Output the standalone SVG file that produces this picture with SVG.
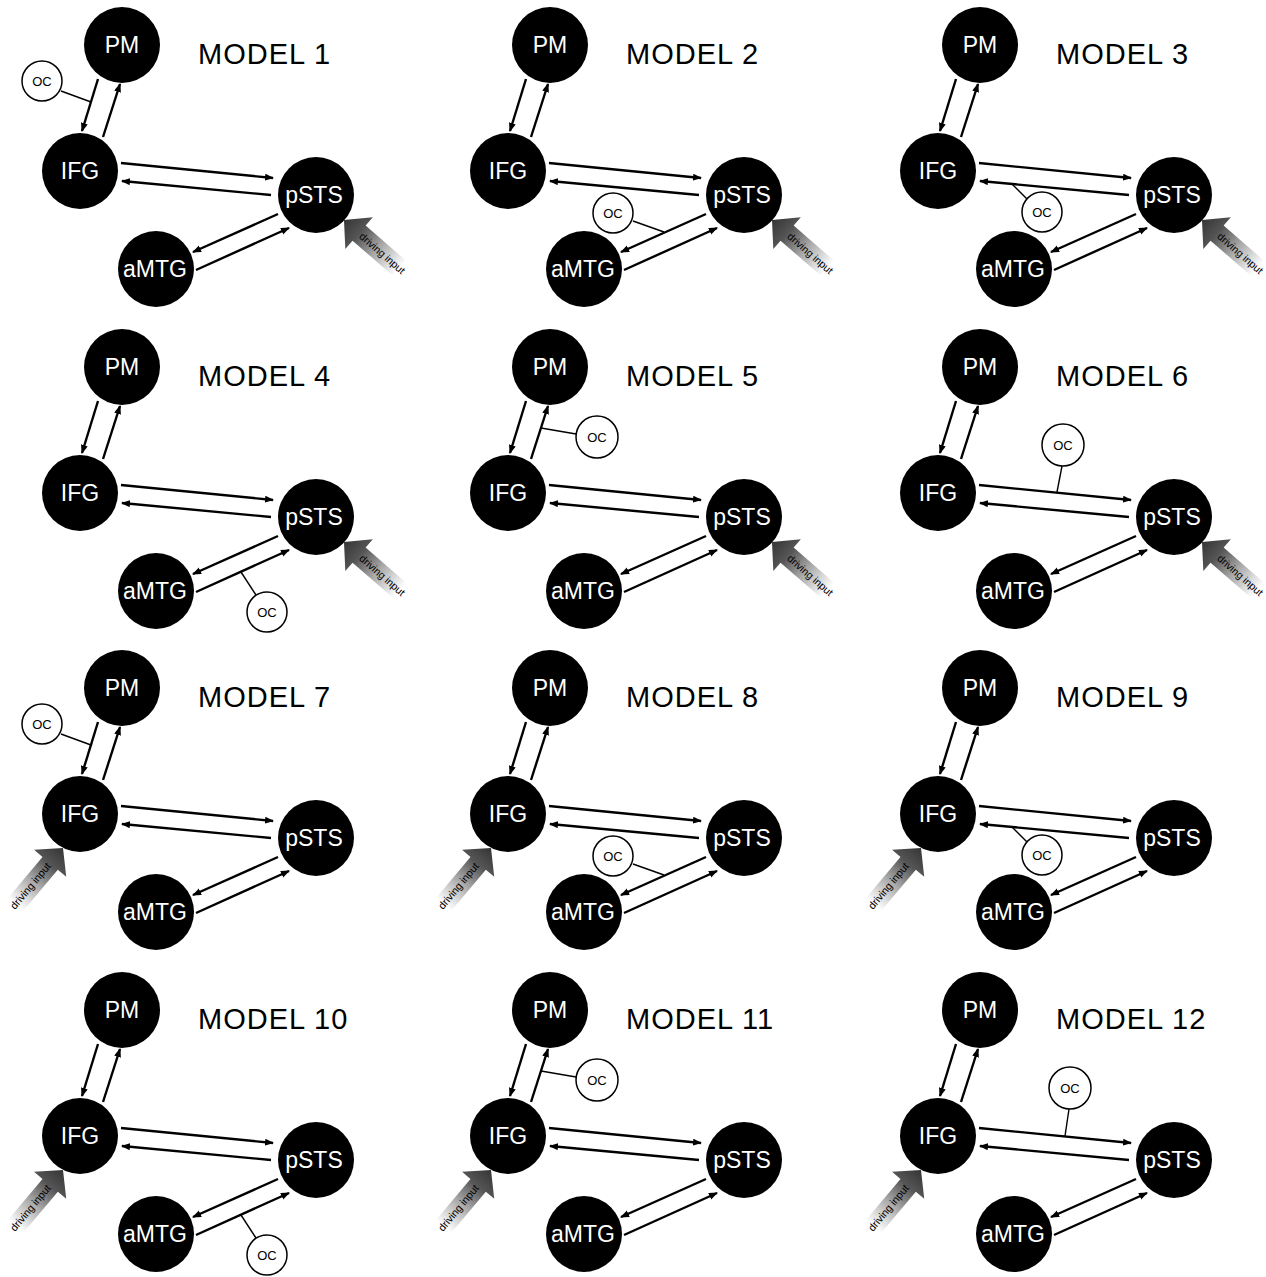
<svg xmlns="http://www.w3.org/2000/svg" width="1266" height="1277" viewBox="0 0 1266 1277">
<defs>
<style>
.title{font-family:"Liberation Sans",Arial,sans-serif;font-size:29px;letter-spacing:1px;fill:#000}
.node circle{fill:#000}
.node text{font-family:"Liberation Sans",Arial,sans-serif;font-size:23px;fill:#fff;text-anchor:middle}
.conn line{stroke:#000;stroke-width:2.4;marker-end:url(#ah)}
.oc circle{fill:#fff;stroke:#000;stroke-width:1.5}
.oc line{stroke:#000;stroke-width:1.4}
.oc text{font-family:"Liberation Sans",Arial,sans-serif;font-size:13px;text-anchor:middle;fill:#000}
.di polygon{fill:url(#gIn)}
.di text{font-family:"Liberation Sans",Arial,sans-serif;font-size:10.5px;fill:#000}
</style>
<marker id="ah" markerUnits="userSpaceOnUse" markerWidth="10" markerHeight="8" refX="8" refY="3.5" orient="auto">
<path d="M0,0 L9,3.5 L0,7 z" fill="#000"/>
</marker>
<linearGradient id="gIn" x1="0" y1="0" x2="1" y2="0">
<stop offset="0" stop-color="#ffffff"/>
<stop offset="0.4" stop-color="#a8a8a8"/>
<stop offset="0.72" stop-color="#555555"/>
<stop offset="1" stop-color="#353535"/>
</linearGradient>
</defs>
<rect width="1266" height="1277" fill="#fff"/>

<!-- MODEL 1 -->
<g id="model1" transform="translate(0,0)">
<text class="title" x="198" y="64">MODEL 1</text>
<g id="m1-connectors" class="conn">
<line x1="98" y1="79" x2="82" y2="131"/>
<line x1="103" y1="137" x2="120" y2="84"/>
<line x1="121" y1="163" x2="273" y2="178"/>
<line x1="271" y1="195" x2="122" y2="181"/>
<line x1="278" y1="214" x2="193" y2="252"/>
<line x1="196" y1="270" x2="289" y2="228"/>
</g>
<g id="m1-PM" class="node"><circle cx="122" cy="45" r="38"/><text x="122" y="53">PM</text></g>
<g id="m1-IFG" class="node"><circle cx="80" cy="171" r="38"/><text x="80" y="179">IFG</text></g>
<g id="m1-pSTS" class="node"><circle cx="316" cy="195" r="38"/><text x="314" y="203">pSTS</text></g>
<g id="m1-aMTG" class="node"><circle cx="156" cy="269" r="38"/><text x="155" y="277">aMTG</text></g>
<g id="m1-OC" class="oc"><line x1="61" y1="91" x2="91" y2="102"/><circle cx="42" cy="81" r="20"/><text x="42" y="86">OC</text></g>
<g id="m1-input" class="di"><polygon transform="translate(344,220) rotate(-139)" points="0,0 -20,-21 -20,-10 -74,-10 -74,10 -20,10 -20,21"/><text transform="translate(358.5,237.5) rotate(41)">driving input</text></g>
</g>

<!-- MODEL 2 -->
<g id="model2" transform="translate(428,0)">
<text class="title" x="198" y="64">MODEL 2</text>
<g id="m2-connectors" class="conn">
<line x1="98" y1="79" x2="82" y2="131"/>
<line x1="103" y1="137" x2="120" y2="84"/>
<line x1="121" y1="163" x2="273" y2="178"/>
<line x1="271" y1="195" x2="122" y2="181"/>
<line x1="278" y1="214" x2="193" y2="252"/>
<line x1="196" y1="270" x2="289" y2="228"/>
</g>
<g id="m2-PM" class="node"><circle cx="122" cy="45" r="38"/><text x="122" y="53">PM</text></g>
<g id="m2-IFG" class="node"><circle cx="80" cy="171" r="38"/><text x="80" y="179">IFG</text></g>
<g id="m2-pSTS" class="node"><circle cx="316" cy="195" r="38"/><text x="314" y="203">pSTS</text></g>
<g id="m2-aMTG" class="node"><circle cx="156" cy="269" r="38"/><text x="155" y="277">aMTG</text></g>
<g id="m2-OC" class="oc"><line x1="205" y1="221" x2="236" y2="232"/><circle cx="185" cy="213" r="20"/><text x="185" y="218">OC</text></g>
<g id="m2-input" class="di"><polygon transform="translate(344,220) rotate(-139)" points="0,0 -20,-21 -20,-10 -74,-10 -74,10 -20,10 -20,21"/><text transform="translate(358.5,237.5) rotate(41)">driving input</text></g>
</g>

<!-- MODEL 3 -->
<g id="model3" transform="translate(858,0)">
<text class="title" x="198" y="64">MODEL 3</text>
<g id="m3-connectors" class="conn">
<line x1="98" y1="79" x2="82" y2="131"/>
<line x1="103" y1="137" x2="120" y2="84"/>
<line x1="121" y1="163" x2="273" y2="178"/>
<line x1="271" y1="195" x2="122" y2="181"/>
<line x1="278" y1="214" x2="193" y2="252"/>
<line x1="196" y1="270" x2="289" y2="228"/>
</g>
<g id="m3-PM" class="node"><circle cx="122" cy="45" r="38"/><text x="122" y="53">PM</text></g>
<g id="m3-IFG" class="node"><circle cx="80" cy="171" r="38"/><text x="80" y="179">IFG</text></g>
<g id="m3-pSTS" class="node"><circle cx="316" cy="195" r="38"/><text x="314" y="203">pSTS</text></g>
<g id="m3-aMTG" class="node"><circle cx="156" cy="269" r="38"/><text x="155" y="277">aMTG</text></g>
<g id="m3-OC" class="oc"><line x1="169" y1="199" x2="154" y2="184"/><circle cx="184" cy="212" r="20"/><text x="184" y="217">OC</text></g>
<g id="m3-input" class="di"><polygon transform="translate(344,220) rotate(-139)" points="0,0 -20,-21 -20,-10 -74,-10 -74,10 -20,10 -20,21"/><text transform="translate(358.5,237.5) rotate(41)">driving input</text></g>
</g>

<!-- MODEL 4 -->
<g id="model4" transform="translate(0,322)">
<text class="title" x="198" y="64">MODEL 4</text>
<g id="m4-connectors" class="conn">
<line x1="98" y1="79" x2="82" y2="131"/>
<line x1="103" y1="137" x2="120" y2="84"/>
<line x1="121" y1="163" x2="273" y2="178"/>
<line x1="271" y1="195" x2="122" y2="181"/>
<line x1="278" y1="214" x2="193" y2="252"/>
<line x1="196" y1="270" x2="289" y2="228"/>
</g>
<g id="m4-PM" class="node"><circle cx="122" cy="45" r="38"/><text x="122" y="53">PM</text></g>
<g id="m4-IFG" class="node"><circle cx="80" cy="171" r="38"/><text x="80" y="179">IFG</text></g>
<g id="m4-pSTS" class="node"><circle cx="316" cy="195" r="38"/><text x="314" y="203">pSTS</text></g>
<g id="m4-aMTG" class="node"><circle cx="156" cy="269" r="38"/><text x="155" y="277">aMTG</text></g>
<g id="m4-OC" class="oc"><line x1="256" y1="273" x2="241" y2="250"/><circle cx="267" cy="290" r="20"/><text x="267" y="295">OC</text></g>
<g id="m4-input" class="di"><polygon transform="translate(344,220) rotate(-139)" points="0,0 -20,-21 -20,-10 -74,-10 -74,10 -20,10 -20,21"/><text transform="translate(358.5,237.5) rotate(41)">driving input</text></g>
</g>

<!-- MODEL 5 -->
<g id="model5" transform="translate(428,322)">
<text class="title" x="198" y="64">MODEL 5</text>
<g id="m5-connectors" class="conn">
<line x1="98" y1="79" x2="82" y2="131"/>
<line x1="103" y1="137" x2="120" y2="84"/>
<line x1="121" y1="163" x2="273" y2="178"/>
<line x1="271" y1="195" x2="122" y2="181"/>
<line x1="278" y1="214" x2="193" y2="252"/>
<line x1="196" y1="270" x2="289" y2="228"/>
</g>
<g id="m5-PM" class="node"><circle cx="122" cy="45" r="38"/><text x="122" y="53">PM</text></g>
<g id="m5-IFG" class="node"><circle cx="80" cy="171" r="38"/><text x="80" y="179">IFG</text></g>
<g id="m5-pSTS" class="node"><circle cx="316" cy="195" r="38"/><text x="314" y="203">pSTS</text></g>
<g id="m5-aMTG" class="node"><circle cx="156" cy="269" r="38"/><text x="155" y="277">aMTG</text></g>
<g id="m5-OC" class="oc"><line x1="148" y1="112" x2="113" y2="106"/><circle cx="169" cy="115" r="21"/><text x="169" y="120">OC</text></g>
<g id="m5-input" class="di"><polygon transform="translate(344,220) rotate(-139)" points="0,0 -20,-21 -20,-10 -74,-10 -74,10 -20,10 -20,21"/><text transform="translate(358.5,237.5) rotate(41)">driving input</text></g>
</g>

<!-- MODEL 6 -->
<g id="model6" transform="translate(858,322)">
<text class="title" x="198" y="64">MODEL 6</text>
<g id="m6-connectors" class="conn">
<line x1="98" y1="79" x2="82" y2="131"/>
<line x1="103" y1="137" x2="120" y2="84"/>
<line x1="121" y1="163" x2="273" y2="178"/>
<line x1="271" y1="195" x2="122" y2="181"/>
<line x1="278" y1="214" x2="193" y2="252"/>
<line x1="196" y1="270" x2="289" y2="228"/>
</g>
<g id="m6-PM" class="node"><circle cx="122" cy="45" r="38"/><text x="122" y="53">PM</text></g>
<g id="m6-IFG" class="node"><circle cx="80" cy="171" r="38"/><text x="80" y="179">IFG</text></g>
<g id="m6-pSTS" class="node"><circle cx="316" cy="195" r="38"/><text x="314" y="203">pSTS</text></g>
<g id="m6-aMTG" class="node"><circle cx="156" cy="269" r="38"/><text x="155" y="277">aMTG</text></g>
<g id="m6-OC" class="oc"><line x1="204" y1="144" x2="199" y2="170"/><circle cx="205" cy="123" r="21"/><text x="205" y="128">OC</text></g>
<g id="m6-input" class="di"><polygon transform="translate(344,220) rotate(-139)" points="0,0 -20,-21 -20,-10 -74,-10 -74,10 -20,10 -20,21"/><text transform="translate(358.5,237.5) rotate(41)">driving input</text></g>
</g>

<!-- MODEL 7 -->
<g id="model7" transform="translate(0,643)">
<text class="title" x="198" y="64">MODEL 7</text>
<g id="m7-connectors" class="conn">
<line x1="98" y1="79" x2="82" y2="131"/>
<line x1="103" y1="137" x2="120" y2="84"/>
<line x1="121" y1="163" x2="273" y2="178"/>
<line x1="271" y1="195" x2="122" y2="181"/>
<line x1="278" y1="214" x2="193" y2="252"/>
<line x1="196" y1="270" x2="289" y2="228"/>
</g>
<g id="m7-PM" class="node"><circle cx="122" cy="45" r="38"/><text x="122" y="53">PM</text></g>
<g id="m7-IFG" class="node"><circle cx="80" cy="171" r="38"/><text x="80" y="179">IFG</text></g>
<g id="m7-pSTS" class="node"><circle cx="316" cy="195" r="38"/><text x="314" y="203">pSTS</text></g>
<g id="m7-aMTG" class="node"><circle cx="156" cy="269" r="38"/><text x="155" y="277">aMTG</text></g>
<g id="m7-OC" class="oc"><line x1="61" y1="91" x2="91" y2="102"/><circle cx="42" cy="81" r="20"/><text x="42" y="86">OC</text></g>
<g id="m7-input" class="di"><polygon transform="translate(63,205) rotate(-50)" points="0,0 -20,-21 -20,-10 -74,-10 -74,10 -20,10 -20,21"/><text text-anchor="end" transform="translate(51.5,223.5) rotate(-50)">driving input</text></g>
</g>

<!-- MODEL 8 -->
<g id="model8" transform="translate(428,643)">
<text class="title" x="198" y="64">MODEL 8</text>
<g id="m8-connectors" class="conn">
<line x1="98" y1="79" x2="82" y2="131"/>
<line x1="103" y1="137" x2="120" y2="84"/>
<line x1="121" y1="163" x2="273" y2="178"/>
<line x1="271" y1="195" x2="122" y2="181"/>
<line x1="278" y1="214" x2="193" y2="252"/>
<line x1="196" y1="270" x2="289" y2="228"/>
</g>
<g id="m8-PM" class="node"><circle cx="122" cy="45" r="38"/><text x="122" y="53">PM</text></g>
<g id="m8-IFG" class="node"><circle cx="80" cy="171" r="38"/><text x="80" y="179">IFG</text></g>
<g id="m8-pSTS" class="node"><circle cx="316" cy="195" r="38"/><text x="314" y="203">pSTS</text></g>
<g id="m8-aMTG" class="node"><circle cx="156" cy="269" r="38"/><text x="155" y="277">aMTG</text></g>
<g id="m8-OC" class="oc"><line x1="205" y1="221" x2="236" y2="232"/><circle cx="185" cy="213" r="20"/><text x="185" y="218">OC</text></g>
<g id="m8-input" class="di"><polygon transform="translate(63,205) rotate(-50)" points="0,0 -20,-21 -20,-10 -74,-10 -74,10 -20,10 -20,21"/><text text-anchor="end" transform="translate(51.5,223.5) rotate(-50)">driving input</text></g>
</g>

<!-- MODEL 9 -->
<g id="model9" transform="translate(858,643)">
<text class="title" x="198" y="64">MODEL 9</text>
<g id="m9-connectors" class="conn">
<line x1="98" y1="79" x2="82" y2="131"/>
<line x1="103" y1="137" x2="120" y2="84"/>
<line x1="121" y1="163" x2="273" y2="178"/>
<line x1="271" y1="195" x2="122" y2="181"/>
<line x1="278" y1="214" x2="193" y2="252"/>
<line x1="196" y1="270" x2="289" y2="228"/>
</g>
<g id="m9-PM" class="node"><circle cx="122" cy="45" r="38"/><text x="122" y="53">PM</text></g>
<g id="m9-IFG" class="node"><circle cx="80" cy="171" r="38"/><text x="80" y="179">IFG</text></g>
<g id="m9-pSTS" class="node"><circle cx="316" cy="195" r="38"/><text x="314" y="203">pSTS</text></g>
<g id="m9-aMTG" class="node"><circle cx="156" cy="269" r="38"/><text x="155" y="277">aMTG</text></g>
<g id="m9-OC" class="oc"><line x1="169" y1="199" x2="154" y2="184"/><circle cx="184" cy="212" r="20"/><text x="184" y="217">OC</text></g>
<g id="m9-input" class="di"><polygon transform="translate(63,205) rotate(-50)" points="0,0 -20,-21 -20,-10 -74,-10 -74,10 -20,10 -20,21"/><text text-anchor="end" transform="translate(51.5,223.5) rotate(-50)">driving input</text></g>
</g>

<!-- MODEL 10 -->
<g id="model10" transform="translate(0,965)">
<text class="title" x="198" y="64">MODEL 10</text>
<g id="m10-connectors" class="conn">
<line x1="98" y1="79" x2="82" y2="131"/>
<line x1="103" y1="137" x2="120" y2="84"/>
<line x1="121" y1="163" x2="273" y2="178"/>
<line x1="271" y1="195" x2="122" y2="181"/>
<line x1="278" y1="214" x2="193" y2="252"/>
<line x1="196" y1="270" x2="289" y2="228"/>
</g>
<g id="m10-PM" class="node"><circle cx="122" cy="45" r="38"/><text x="122" y="53">PM</text></g>
<g id="m10-IFG" class="node"><circle cx="80" cy="171" r="38"/><text x="80" y="179">IFG</text></g>
<g id="m10-pSTS" class="node"><circle cx="316" cy="195" r="38"/><text x="314" y="203">pSTS</text></g>
<g id="m10-aMTG" class="node"><circle cx="156" cy="269" r="38"/><text x="155" y="277">aMTG</text></g>
<g id="m10-OC" class="oc"><line x1="256" y1="273" x2="241" y2="250"/><circle cx="267" cy="290" r="20"/><text x="267" y="295">OC</text></g>
<g id="m10-input" class="di"><polygon transform="translate(63,205) rotate(-50)" points="0,0 -20,-21 -20,-10 -74,-10 -74,10 -20,10 -20,21"/><text text-anchor="end" transform="translate(51.5,223.5) rotate(-50)">driving input</text></g>
</g>

<!-- MODEL 11 -->
<g id="model11" transform="translate(428,965)">
<text class="title" x="198" y="64">MODEL 11</text>
<g id="m11-connectors" class="conn">
<line x1="98" y1="79" x2="82" y2="131"/>
<line x1="103" y1="137" x2="120" y2="84"/>
<line x1="121" y1="163" x2="273" y2="178"/>
<line x1="271" y1="195" x2="122" y2="181"/>
<line x1="278" y1="214" x2="193" y2="252"/>
<line x1="196" y1="270" x2="289" y2="228"/>
</g>
<g id="m11-PM" class="node"><circle cx="122" cy="45" r="38"/><text x="122" y="53">PM</text></g>
<g id="m11-IFG" class="node"><circle cx="80" cy="171" r="38"/><text x="80" y="179">IFG</text></g>
<g id="m11-pSTS" class="node"><circle cx="316" cy="195" r="38"/><text x="314" y="203">pSTS</text></g>
<g id="m11-aMTG" class="node"><circle cx="156" cy="269" r="38"/><text x="155" y="277">aMTG</text></g>
<g id="m11-OC" class="oc"><line x1="148" y1="112" x2="113" y2="106"/><circle cx="169" cy="115" r="21"/><text x="169" y="120">OC</text></g>
<g id="m11-input" class="di"><polygon transform="translate(63,205) rotate(-50)" points="0,0 -20,-21 -20,-10 -74,-10 -74,10 -20,10 -20,21"/><text text-anchor="end" transform="translate(51.5,223.5) rotate(-50)">driving input</text></g>
</g>

<!-- MODEL 12 -->
<g id="model12" transform="translate(858,965)">
<text class="title" x="198" y="64">MODEL 12</text>
<g id="m12-connectors" class="conn">
<line x1="98" y1="79" x2="82" y2="131"/>
<line x1="103" y1="137" x2="120" y2="84"/>
<line x1="121" y1="163" x2="273" y2="178"/>
<line x1="271" y1="195" x2="122" y2="181"/>
<line x1="278" y1="214" x2="193" y2="252"/>
<line x1="196" y1="270" x2="289" y2="228"/>
</g>
<g id="m12-PM" class="node"><circle cx="122" cy="45" r="38"/><text x="122" y="53">PM</text></g>
<g id="m12-IFG" class="node"><circle cx="80" cy="171" r="38"/><text x="80" y="179">IFG</text></g>
<g id="m12-pSTS" class="node"><circle cx="316" cy="195" r="38"/><text x="314" y="203">pSTS</text></g>
<g id="m12-aMTG" class="node"><circle cx="156" cy="269" r="38"/><text x="155" y="277">aMTG</text></g>
<g id="m12-OC" class="oc"><line x1="211" y1="144" x2="207" y2="171"/><circle cx="212" cy="123" r="21"/><text x="212" y="128">OC</text></g>
<g id="m12-input" class="di"><polygon transform="translate(63,205) rotate(-50)" points="0,0 -20,-21 -20,-10 -74,-10 -74,10 -20,10 -20,21"/><text text-anchor="end" transform="translate(51.5,223.5) rotate(-50)">driving input</text></g>
</g>
</svg>
